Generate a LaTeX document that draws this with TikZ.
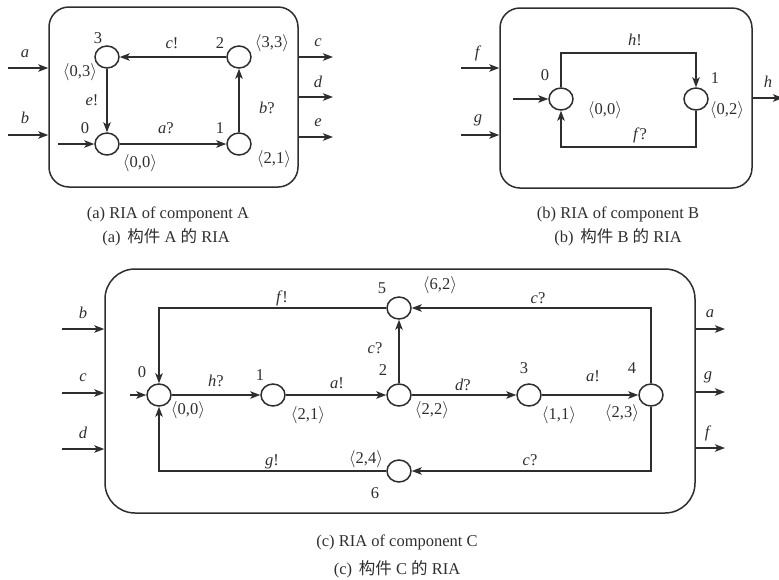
\documentclass[tikz,border=0pt]{standalone}
\usepackage{fontspec}
\setmainfont{Liberation Serif}
\newfontfamily\cjk{Noto Sans CJK SC}
\usetikzlibrary{arrows.meta,shapes.geometric}
\definecolor{ink}{HTML}{2E2E2E}
\newcommand\myang[1]{$\langle$#1$\rangle$}
\begin{document}
\begin{tikzpicture}[x=1pt,y=-1pt,
  st/.style={ellipse,draw=ink,line width=1.5pt,minimum width=24pt,minimum height=22pt,inner sep=0pt,fill=white},
  boxst/.style={draw=ink,line width=1.5pt,rounded corners=20pt,inner sep=0pt},
  tr/.style={draw=ink,line width=1.5pt,-{Stealth[length=10pt,width=7.5pt,inset=2.5pt]}},
  lb/.style={text=ink,font=\fontsize{16.5}{18}\selectfont,inner sep=0pt},
  captxt/.style={text=ink,font=\fontsize{16.5}{18}\selectfont,inner sep=0pt}]
\useasboundingbox (0,0) rectangle (779,579);

% ---------------- (a) ----------------
\node[boxst,minimum width=249pt,minimum height=180pt] (boxA) at (173.5,97) {};
\node[st] (a0) at (107,144) {};
\node[st] (a1) at (239,144) {};
\node[st] (a2) at (239,57) {};
\node[st] (a3) at (107,57) {};
\draw[tr] (a2) -- (a3);
\draw[tr] (a3) -- (a0);
\draw[tr] (a0) -- (a1);
\draw[tr] (a1) -- (a2);
\coordinate (ia0) at (58,144);
\draw[tr] (ia0) -- (a0);
\coordinate (ina) at (8,68);
\coordinate (inb) at (8,135);
\draw[tr] (ina) -- (ina -| boxA.west);
\draw[tr] (inb) -- (inb -| boxA.west);
\coordinate (outc) at (333,57);
\coordinate (outd) at (333,97);
\coordinate (oute) at (333,137);
\draw[tr] (outc -| boxA.east) -- (outc);
\draw[tr] (outd -| boxA.east) -- (outd);
\draw[tr] (oute -| boxA.east) -- (oute);
\node[lb] (la) at (25,54) {\textit{a}};
\node[lb] (lb) at (25,118) {\textit{b}};
\node[lb] (lc) at (318,43) {\textit{c}};
\node[lb] (ld) at (318,82) {\textit{d}};
\node[lb] (le) at (318,123) {\textit{e}};
\node[lb] (n3) at (98,38) {3};
\node[lb] (n2) at (220,43) {2};
\node[lb] (n0) at (85,128) {0};
\node[lb] (n1) at (220,128) {1};
\node[lb] (v3) at (80,72) {\myang{0,3}};
\node[lb] (v2) at (272,43) {\myang{3,3}};
\node[lb] (v0) at (140,163) {\myang{0,0}};
\node[lb] (v1) at (274,159) {\myang{2,1}};
\node[lb] (ecA) at (172,43) {\textit{c}!};
\node[lb] (eeA) at (92,100) {\textit{e}!};
\node[lb] (eaA) at (166,128) {\textit{a}?};
\node[lb] (ebA) at (267,108) {\textit{b}?};
\node[captxt] (capA1) at (168,214) {(a) RIA of component A};
\node[captxt] (capA2) at (166,237) {(a)\, {\cjk 构件} A {\cjk 的} RIA};

% ---------------- (b) ----------------
\node[boxst,minimum width=252pt,minimum height=180pt] (boxB) at (626,98) {};
\node[st] (b0) at (561,99) {};
\node[st] (b1) at (696,99) {};
\coordinate (bh) at (628,53);
\coordinate (bf) at (628,147);
\draw[tr] (b0.north) |- (bh) -| (b1.north);
\draw[tr] (b1.south) |- (bf) -| (b0.south);
\coordinate (ib0) at (513,99);
\draw[tr] (ib0) -- (b0);
\coordinate (inf) at (461,68);
\coordinate (ing) at (461,135);
\draw[tr] (inf) -- (inf -| boxB.west);
\draw[tr] (ing) -- (ing -| boxB.west);
\coordinate (outh) at (783,98);
\draw[tr] (outh -| boxB.east) -- (outh);
\node[lb] (lf) at (478,53) {\textit{f}};
\node[lb] (lg) at (478,120) {\textit{g}};
\node[lb] (lh) at (768,82) {\textit{h}};
\node[lb] (m0) at (545,75) {0};
\node[lb] (m1) at (715,78) {1};
\node[lb] (w0) at (605,110) {\myang{0,0}};
\node[lb] (w1) at (727,110) {\myang{0,2}};
\node[lb] (ehB) at (635,40) {\textit{h}!};
\node[lb] (efB) at (640,135) {\textit{f}?};
\node[captxt] (capB1) at (618,214) {(b) RIA of component B};
\node[captxt] (capB2) at (618,237) {(b)\, {\cjk 构件} B {\cjk 的} RIA};

% ---------------- (c) ----------------
\node[boxst,rounded corners=30pt,minimum width=590pt,minimum height=244pt] (boxC) at (400,391) {};
\node[st] (c0) at (159,395) {};
\node[st] (c1) at (273,395) {};
\node[st] (c2) at (399,395) {};
\node[st] (c3) at (529,395) {};
\node[st] (c4) at (651,395) {};
\node[st] (c5) at (399,308) {};
\node[st] (c6) at (399,471) {};
\draw[tr] (c0) -- (c1);
\draw[tr] (c1) -- (c2);
\draw[tr] (c2) -- (c3);
\draw[tr] (c3) -- (c4);
\draw[tr] (c2) -- (c5);
\draw[tr] (c4.north) |- (c5.east);
\draw[tr] (c5.west) -| (c0.north);
\draw[tr] (c4.south) |- (c6.east);
\draw[tr] (c6.west) -| (c0.south);
\coordinate (ic0) at (130,395);
\draw[tr] (ic0) -- (c0);
\coordinate (inCb) at (62,329);
\coordinate (inCc) at (62,393);
\coordinate (inCd) at (62,449);
\draw[tr] (inCb) -- (inCb -| boxC.west);
\draw[tr] (inCc) -- (inCc -| boxC.west);
\draw[tr] (inCd) -- (inCd -| boxC.west);
\coordinate (outCa) at (725,329);
\coordinate (outCg) at (725,392);
\coordinate (outCf) at (725,448);
\draw[tr] (outCa -| boxC.east) -- (outCa);
\draw[tr] (outCg -| boxC.east) -- (outCg);
\draw[tr] (outCf -| boxC.east) -- (outCf);
\node[lb] (lCb) at (83,313) {\textit{b}};
\node[lb] (lCc) at (83,378) {\textit{c}};
\node[lb] (lCd) at (83,433) {\textit{d}};
\node[lb] (lCa) at (710,314) {\textit{a}};
\node[lb] (lCg) at (708,377) {\textit{g}};
\node[lb] (lCf) at (708,433) {\textit{f}};
\node[lb] (k0) at (142,372) {0};
\node[lb] (k1) at (260,375) {1};
\node[lb] (k2) at (383,370) {2};
\node[lb] (k3) at (524,368) {3};
\node[lb] (k4) at (632,368) {4};
\node[lb] (k5) at (382,288) {5};
\node[lb] (k6) at (375,493) {6};
\node[lb] (u0) at (188,410) {\myang{0,0}};
\node[lb] (u1) at (308,415) {\myang{2,1}};
\node[lb] (u2) at (432,410) {\myang{2,2}};
\node[lb] (u3) at (559,415) {\myang{1,1}};
\node[lb] (u4) at (622,413) {\myang{2,3}};
\node[lb] (u5) at (440,285) {\myang{6,2}};
\node[lb] (u6) at (366,459) {\myang{2,4}};
\node[lb] (eh) at (216,381) {\textit{h}?};
\node[lb] (ea1) at (337,383) {\textit{a}!};
\node[lb] (ed) at (463,385) {\textit{d}?};
\node[lb] (ea2) at (593,376) {\textit{a}!};
\node[lb] (ec1) at (375,348) {\textit{c}?};
\node[lb] (ec2) at (538,298) {\textit{c}?};
\node[lb] (ef) at (282,298) {\textit{f}!};
\node[lb] (ec3) at (530,460) {\textit{c}?};
\node[lb] (eg) at (272,462) {\textit{g}!};
\node[captxt] (capC1) at (397,542) {(c) RIA of component C};
\node[captxt] (capC2) at (397,569) {(c)\, {\cjk 构件} C {\cjk 的} RIA};
\end{tikzpicture}
\end{document}
